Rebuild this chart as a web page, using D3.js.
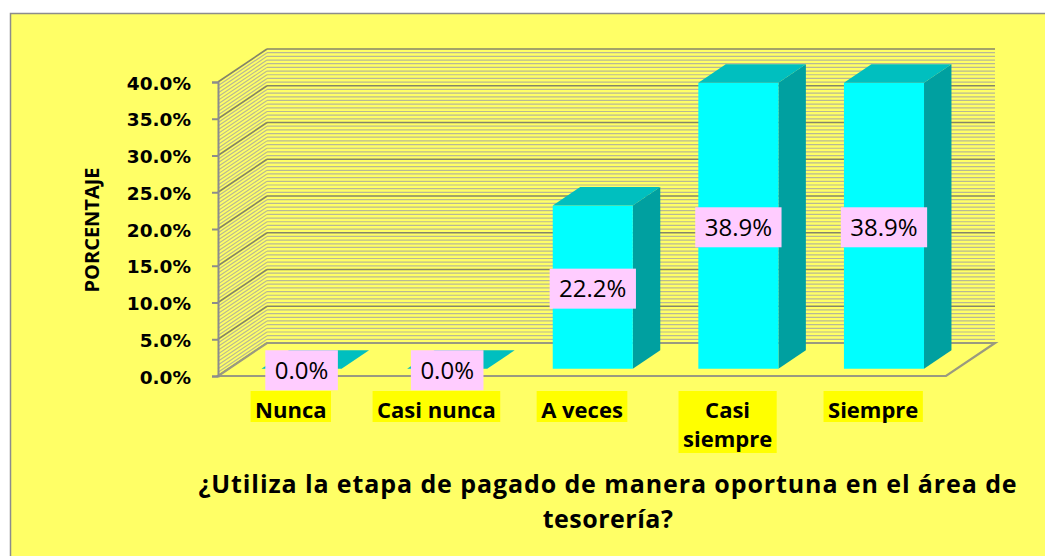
<!DOCTYPE html>
<html>
<head>
<meta charset="utf-8">
<script src="https://cdn.jsdelivr.net/npm/d3@7"></script>
<style>
  html, body { margin: 0; padding: 0; background: #ffffff; }
  svg { display: block; }
</style>
</head>
<body>
<svg id="chart" width="1045" height="556"></svg>
<script>
// ---- data ----
const categories = ["Nunca", "Casi nunca", "A veces", "Casi siempre", "Siempre"];
const categoryLines = [["Nunca"], ["Casi nunca"], ["A veces"], ["Casi", "siempre"], ["Siempre"]];
const values = [0.0, 0.0, 0.222, 0.389, 0.389];
const yTicks = [0, 0.05, 0.10, 0.15, 0.20, 0.25, 0.30, 0.35, 0.40];
const yAxisTitle = "PORCENTAJE";
const titleLines = ["¿Utiliza la etapa de pagado de manera oportuna en el área de", "tesorería?"];

// ---- layout ----
const svg = d3.select("#chart");
const W = 1045, H = 556;
const DX = 49, DY = -33;           // depth offset of back wall
const D0 = 0.22, D1 = 0.78;        // bar depth range (fraction)

const x = d3.scaleBand().domain(categories).range([218, 946]).paddingInner(0.45).paddingOuter(0.225);
const y = d3.scaleLinear().domain([0, 0.4]).range([376, 82]);
const fmt = d3.format(".1%");

// background + border
svg.append("rect").attr("x", 0).attr("y", 0).attr("width", W).attr("height", H).attr("fill", "#ffffff");
svg.append("rect").attr("x", 10.5).attr("y", 13.5).attr("width", W + 20).attr("height", H + 20)
  .attr("fill", "#FFFF66").attr("stroke", "#8c8c8c").attr("stroke-width", 1.5);

const x0 = x.range()[0], x1 = x.range()[1];
const y0 = y(0), yTop = y(0.4);

// walls
const walls = svg.append("g");
walls.append("rect").attr("x", x0 + DX).attr("y", yTop + DY).attr("width", x1 - x0).attr("height", y0 - yTop)
  .attr("fill", "#FFFF66");
walls.append("path").attr("d", d3.line()([[x0, y0], [x0, yTop], [x0 + DX, yTop + DY], [x0 + DX, y0 + DY]]) + "Z")
  .attr("fill", "#FFFF66");

// gridlines (major every 5%, minor every 0.5%)
const minor = d3.range(0, 0.4001, 0.005);
const grid = svg.append("g");
minor.forEach((v, i) => {
  const major = (i % 10 === 0);
  const col = major ? "#85856a" : "#b8b896";
  const sw = major ? 1.7 : 1.2;
  const yy = y(v);
  grid.append("line").attr("x1", x0).attr("y1", yy).attr("x2", x0 + DX).attr("y2", yy + DY)
    .attr("stroke", col).attr("stroke-width", sw);
  grid.append("line").attr("x1", x0 + DX).attr("y1", yy + DY).attr("x2", x1 + DX).attr("y2", yy + DY)
    .attr("stroke", col).attr("stroke-width", sw);
});

// floor
svg.append("path")
  .attr("d", d3.line()([[x0, y0], [x1, y0], [x1 + DX, y0 + DY], [x0 + DX, y0 + DY]]) + "Z")
  .attr("fill", "#FFFF66").attr("stroke", "#9a9a80").attr("stroke-width", 2.2);

// axis
const axis = d3.axisLeft(y).tickValues(yTicks).tickFormat(fmt).tickSize(6).tickPadding(21);
const ag = svg.append("g").attr("transform", `translate(${x0},0)`).call(axis);
ag.select(".domain").attr("stroke", "#8c8c8c").attr("stroke-width", 2);
ag.selectAll(".tick line").attr("stroke", "#8c8c8c").attr("stroke-width", 2);
ag.selectAll(".tick text")
  .attr("font-family", "'DejaVu Sans', Verdana, sans-serif")
  .attr("font-weight", "bold").attr("font-size", 18.5).attr("fill", "#000").attr("dy", "0.38em");

// bars
const bw = x.bandwidth();
const bars = svg.append("g");
categories.forEach((c, i) => {
  const v = values[i];
  const fx0 = x(c) + DX * D0, fx1 = fx0 + bw;
  const fyT = y(v) + DY * D0, fyB = y(0) + DY * D0;
  const ddx = DX * (D1 - D0), ddy = DY * (D1 - D0);
  bars.append("path").attr("d", d3.line()([[fx1, fyT], [fx1 + ddx, fyT + ddy], [fx1 + ddx, fyB + ddy], [fx1, fyB]]) + "Z")
    .attr("fill", "#00A0A0");
  bars.append("rect").attr("x", fx0).attr("y", fyT).attr("width", bw).attr("height", Math.max(0, fyB - fyT))
    .attr("fill", "#00FFFF");
  bars.append("path").attr("d", d3.line()([[fx0, fyT], [fx1, fyT], [fx1 + ddx, fyT + ddy], [fx0 + ddx, fyT + ddy]]) + "Z")
    .attr("fill", "#00BFBF");
});

// data labels
const labels = svg.append("g");
categories.forEach((c, i) => {
  const v = values[i];
  const cx = x(c) + DX * D0 + bw / 2;
  const cy = (y(v) + y(0)) / 2 + DY * D0 + 1.5;
  const g = labels.append("g");
  const r = g.append("rect").attr("fill", "#FFCCFF");
  const t = g.append("text").attr("x", cx).attr("y", cy).attr("text-anchor", "middle").attr("dy", "0.36em")
    .attr("font-family", "'Open Sans', sans-serif").attr("font-size", 24).attr("fill", "#000").text(fmt(v));
  const tw = t.node().getComputedTextLength();
  r.attr("x", cx - tw / 2 - 9.5).attr("y", cy - 20).attr("width", tw + 19).attr("height", 40);
});

// category labels
const cats = svg.append("g");
categories.forEach((c, i) => {
  const cx = x(c) + bw / 2;
  const lines = categoryLines[i];
  const g = cats.append("g");
  const r = g.append("rect").attr("fill", "#FFFF00");
  const t = g.append("text").attr("text-anchor", "middle")
    .attr("font-family", "'Open Sans', sans-serif").attr("font-weight", "bold").attr("font-size", 22).attr("fill", "#000");
  lines.forEach((ln, j) => {
    t.append("tspan").attr("x", cx).attr("y", 418 + j * 29).text(ln);
  });
  const bb = t.node().getBBox();
  r.attr("x", cx - bb.width / 2 - 4.5).attr("y", 391).attr("width", bb.width + 9).attr("height", 31 + (lines.length - 1) * 31);
});

// y-axis title
svg.append("text").attr("transform", "translate(99,230) rotate(-90)").attr("text-anchor", "middle")
  .attr("font-family", "'Open Sans', sans-serif").attr("font-weight", "bold").attr("font-size", 20).attr("fill", "#000")
  .text(yAxisTitle);

// title
titleLines.forEach((ln, j) => {
  svg.append("text").attr("text-anchor", "middle")
    .attr("font-family", "'Open Sans', sans-serif").attr("font-weight", "bold").attr("font-size", 25)
    .attr("letter-spacing", j === 0 ? 0.9 : 0.5).attr("fill", "#000")
    .attr("x", 608).attr("y", 493 + j * 35).text(ln);
});
</script>
</body>
</html>
